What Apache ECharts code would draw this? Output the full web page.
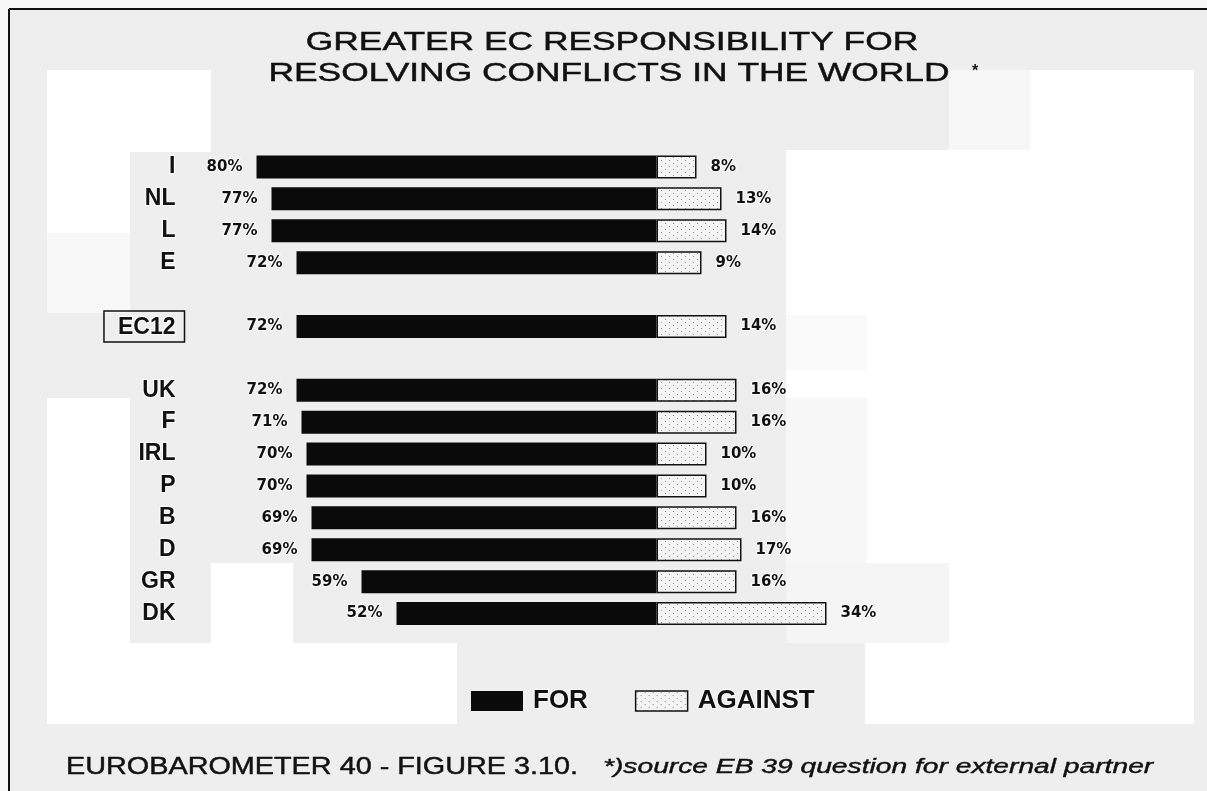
<!DOCTYPE html>
<html>
<head>
<meta charset="utf-8">
<title>Greater EC responsibility for resolving conflicts in the world</title>
<script src="https://cdn.jsdelivr.net/npm/echarts@6/dist/echarts.min.js"></script>
<style>
  html, body { margin: 0; padding: 0; background: #eeeeee; }
  #chart { width: 1207px; height: 791px; }
</style>
</head>
<body>
<div id="chart"></div>
<script>
// Survey results per member state (percent)
const countries = ['I', 'NL', 'L', 'E', 'EC12', 'UK', 'F', 'IRL', 'P', 'B', 'D', 'GR', 'DK'];
const forShare = [80, 77, 77, 72, 72, 72, 71, 70, 70, 69, 69, 59, 52];
const againstShare = [8, 13, 14, 9, 14, 16, 16, 10, 10, 16, 17, 16, 34];
const seriesNames = ['FOR', 'AGAINST'];
const averageRow = 'EC12';

const titleLines = ['GREATER EC RESPONSIBILITY FOR', 'RESOLVING CONFLICTS IN THE WORLD'];
const footLeft = 'EUROBAROMETER 40 - FIGURE 3.10.';
const footRight = '*)source EB 39 question for external partner';

// The community average sits between blank rows
const rows = [];
let spacer = 0;
countries.forEach((c, i) => {
  if (c === averageRow) rows.push({ name: ' '.repeat(++spacer), idx: null });
  rows.push({ name: c, idx: i });
  if (c === averageRow) rows.push({ name: ' '.repeat(++spacer), idx: null });
});
const categories = rows.map(r => r.name);
const forData = rows.map(r => r.idx === null ? '-' : -forShare[r.idx]);
const againstData = rows.map(r => r.idx === null ? '-' : againstShare[r.idx]);

// Stippled fill for the AGAINST bars
function dotPattern() {
  const c = document.createElement('canvas');
  c.width = 8; c.height = 6;
  const g = c.getContext('2d');
  g.fillStyle = '#f4f4f4';
  g.fillRect(0, 0, 8, 6);
  g.fillStyle = '#8c8c8c';
  g.fillRect(1, 1, 1, 1);
  g.fillRect(5, 4, 1, 1);
  return c;
}
const stipple = { image: dotPattern(), repeat: 'repeat' };

const INK = '#111111';
const halo = { textBorderColor: 'rgba(255,255,255,0.85)', textBorderWidth: 2 };

const valueLabel = Object.assign({
  show: true,
  fontFamily: 'DejaVu Sans',
  fontWeight: 'bold',
  fontSize: 15,
  color: INK,
  distance: 14,
  formatter: p => Math.abs(p.value) + '%'
}, halo);

// Paper tones behind the chart
function paper(x, y, w, h, fill) {
  return { type: 'rect', silent: true, z: -10, shape: { x, y, width: w, height: h }, style: { fill } };
}
const paperPatches = [
  paper(0, 0, 1207, 9, '#f6f6f6'),
  paper(0, 0, 9, 791, '#f6f6f6'),
  paper(47, 70, 164, 82, '#ffffff'),
  paper(47, 152, 83, 81, '#ffffff'),
  paper(47, 233, 83, 80, '#f8f8f8'),
  paper(47, 398, 83, 326, '#ffffff'),
  paper(47, 643, 410, 81, '#ffffff'),
  paper(211, 563, 82, 80, '#ffffff'),
  paper(949, 70, 81, 80, '#f7f7f7'),
  paper(1030, 70, 164, 80, '#ffffff'),
  paper(786, 150, 408, 165, '#ffffff'),
  paper(786, 315, 81, 55, '#f9f9f9'),
  paper(786, 370, 81, 28, '#ffffff'),
  paper(786, 398, 81, 165, '#f7f7f7'),
  paper(867, 315, 327, 328, '#ffffff'),
  paper(786, 563, 163, 80, '#f5f5f5'),
  paper(949, 563, 245, 80, '#ffffff'),
  paper(865, 643, 329, 81, '#ffffff')
];

const frame = [
  { type: 'line', silent: true, z: 20, shape: { x1: 9, y1: 9, x2: 1207, y2: 9 }, style: { stroke: INK, lineWidth: 2 } },
  { type: 'line', silent: true, z: 20, shape: { x1: 9, y1: 9, x2: 9, y2: 791 }, style: { stroke: INK, lineWidth: 2 } }
];

function label(text, x, y, font, sx, align, weight) {
  return {
    type: 'text', silent: true, z: 20, x, y, scaleX: sx,
    style: {
      text, font, fill: INK, align: align || 'center', verticalAlign: 'middle',
      stroke: INK, lineWidth: weight || 0
    }
  };
}
const texts = [
  label(titleLines[0], 612, 43, '26px "Liberation Sans"', 1.36, 'center', 0.45),
  label(titleLines[1], 609, 74, '26px "Liberation Sans"', 1.36, 'center', 0.45),
  label('*', 975, 72, 'bold 16px "Liberation Sans"', 1),
  label(footLeft, 66, 767, '24px "Liberation Sans"', 1.2, 'left', 0.45),
  label(footRight, 603, 767, 'italic 20px "Liberation Sans"', 1.41, 'left', 0.4)
];

const chart = echarts.init(document.getElementById('chart'), null, { renderer: 'canvas' });
chart.setOption({
  backgroundColor: '#eeeeee',
  animation: false,
  grid: { left: 156.5, right: 50.5, top: 151, bottom: 161.5, containLabel: false },
  xAxis: {
    type: 'value', min: -100, max: 100,
    axisLine: { show: false }, axisTick: { show: false },
    axisLabel: { show: false }, splitLine: { show: false }
  },
  yAxis: {
    type: 'category', inverse: true, data: categories,
    offset: -28,
    axisLine: { show: false }, axisTick: { show: false }, splitLine: { show: false },
    axisLabel: Object.assign({
      margin: 0,
      fontFamily: 'Liberation Sans',
      fontWeight: 'bold',
      fontSize: 23,
      color: INK,
      formatter: v => v === averageRow ? '{box|' + v + '}' : '{n|' + v + '}',
      rich: {
        n: { fontFamily: 'Liberation Sans', fontWeight: 'bold', fontSize: 23, color: INK, padding: [0, 9, 0, 0] },
        box: {
          fontFamily: 'Liberation Sans', fontWeight: 'bold', fontSize: 23, color: INK,
          borderColor: INK, borderWidth: 1.5, padding: [5, 9, 3, 14]
        }
      }
    }, halo)
  },
  legend: {
    left: 466, top: 682,
    icon: 'rect',
    itemWidth: 52, itemHeight: 20, itemGap: 46,
    selectedMode: false,
    textStyle: Object.assign({ fontFamily: 'Liberation Sans', fontWeight: 'bold', fontSize: 26, color: INK, padding: [0, 0, 0, 5] }, halo),
    data: [
      { name: seriesNames[0], itemStyle: { color: '#0a0a0a' } },
      { name: seriesNames[1], itemStyle: { color: stipple, borderColor: INK, borderWidth: 1.5 } }
    ]
  },
  series: [
    {
      name: seriesNames[0], type: 'bar', data: forData,
      barWidth: 23, barGap: '-100%',
      itemStyle: { color: '#0a0a0a' },
      label: Object.assign({ position: 'left' }, valueLabel)
    },
    {
      name: seriesNames[1], type: 'bar', data: againstData,
      barWidth: 23, barGap: '-100%',
      itemStyle: { color: stipple, borderColor: INK, borderWidth: 1.5 },
      label: Object.assign({ position: 'right' }, valueLabel)
    }
  ],
  graphic: { elements: paperPatches.concat(frame, texts) }
});
</script>
</body>
</html>
